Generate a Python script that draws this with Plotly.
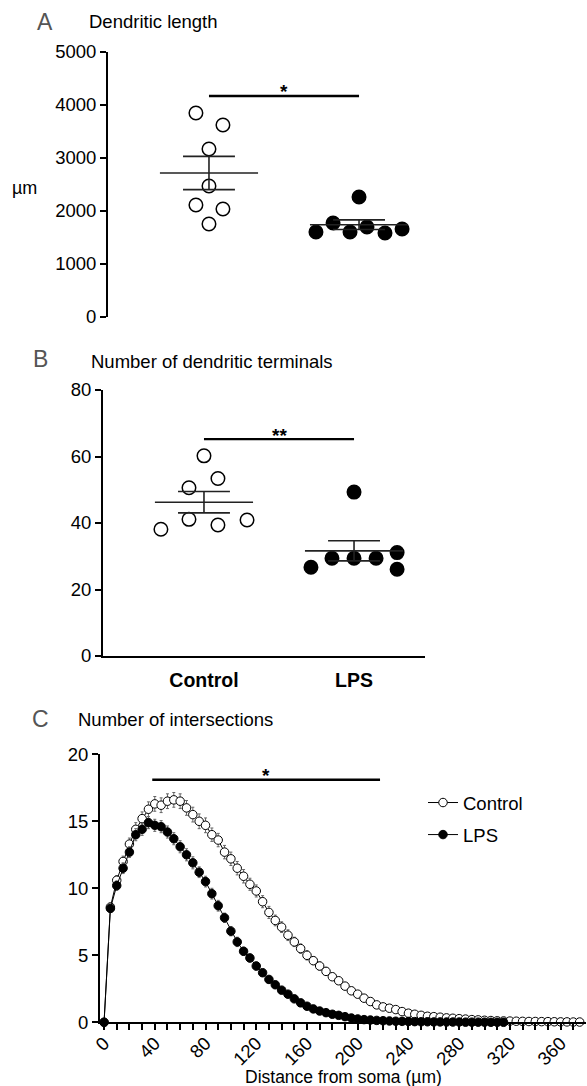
import plotly.graph_objects as go
import numpy as np

W, H = 587, 1086
FONT = "Liberation Sans"

# ---------------- data ----------------
groups = ["Control", "LPS"]
group_pos = [1, 2]

# Panel A: dendritic length (µm)
a_control = [3849, 3623, 3170, 2472, 2113, 2038, 1755]
a_control_jitter = [-0.087, 0.093, 0.0, 0.0, -0.087, 0.093, 0.0]
a_lps = [2264, 1774, 1604, 1604, 1698, 1585, 1660]
a_lps_jitter = [0.0, -0.173, -0.287, -0.06, 0.053, 0.173, 0.287]
a_ticks = [0, 1000, 2000, 3000, 4000, 5000]

# Panel B: number of dendritic terminals
b_control = [38.1, 41.1, 60.2, 50.6, 53.4, 39.4, 40.9]
b_control_jitter = [-0.287, -0.1, 0.0, -0.1, 0.093, 0.093, 0.287]
b_lps = [26.7, 29.4, 29.4, 29.4, 31.1, 26.1, 49.3]
b_lps_jitter = [-0.287, -0.147, 0.0, 0.147, 0.287, 0.287, 0.0]
b_ticks = [0, 20, 40, 60, 80]

# Panel C: Sholl analysis, number of intersections vs distance from soma
radius = [0, 5, 10, 15, 20, 25, 30, 35, 40, 45,
          50, 55, 60, 65, 70, 75, 80, 85, 90, 95,
          100, 105, 110, 115, 120, 125, 130, 135, 140, 145,
          150, 155, 160, 165, 170, 175, 180, 185, 190, 195,
          200, 205, 210, 215, 220, 225, 230, 235, 240, 245,
          250, 255, 260, 265, 270, 275, 280, 285, 290, 295,
          300, 305, 310, 315, 320, 325, 330, 335, 340, 345,
          350, 355, 360, 365, 370, 375]
c_control = [0, 8.6, 10.6, 12.0, 13.3, 14.4, 15.2, 15.9, 16.3, 16.2,
             16.5, 16.6, 16.5, 16.0, 15.5, 15.0, 14.7, 14.0, 13.6, 12.7,
             12.2, 11.5, 10.9, 10.3, 9.8, 9.0, 8.2, 7.6, 7.1, 6.5,
             6.0, 5.5, 5.0, 4.6, 4.2, 3.8, 3.4, 3.1, 2.7, 2.35,
             2.1, 1.8, 1.55, 1.3, 1.15, 1.05, 0.95, 0.8, 0.68, 0.6,
             0.52, 0.45, 0.42, 0.38, 0.33, 0.3, 0.27, 0.24, 0.2, 0.18,
             0.15, 0.13, 0.11, 0.1, 0.09, 0.08, 0.07, 0.06, 0.06, 0.05,
             0.05, 0.04, 0.03, 0.03, 0.02, 0.02]
c_control_sem = [0, 0.3, 0.35, 0.4, 0.45, 0.5, 0.5, 0.55, 0.55, 0.55,
                 0.55, 0.55, 0.55, 0.55, 0.55, 0.55, 0.55, 0.5, 0.5, 0.5,
                 0.5, 0.5, 0.5, 0.45, 0.45, 0.45, 0.45, 0.4, 0.4, 0.4,
                 0.35, 0.35, 0.35, 0.3, 0.3, 0.3, 0.25, 0.25, 0.25, 0.2,
                 0.2, 0.2, 0.2, 0.15, 0.15, 0.15, 0.15, 0.12, 0.12, 0.1,
                 0.1, 0.1, 0.1, 0.08, 0.08, 0.08, 0.07, 0.07, 0.06, 0.06,
                 0.05, 0.05, 0.05, 0.04, 0.04, 0.04, 0.03, 0.03, 0.03, 0.03,
                 0.02, 0.02, 0.02, 0.02, 0.02, 0.02]
c_lps = [0, 8.5, 10.2, 11.5, 12.7, 14.0, 14.4, 14.9, 14.7, 14.6,
         14.2, 13.7, 13.1, 12.5, 11.9, 11.2, 10.5, 9.6, 8.7, 7.8,
         6.8, 6.0, 5.3, 4.8, 4.2, 3.7, 3.2, 2.8, 2.4, 2.1,
         1.75, 1.45, 1.2, 1.0, 0.84, 0.72, 0.6, 0.52, 0.42, 0.32,
         0.25, 0.2, 0.17, 0.14, 0.12, 0.1, 0.08, 0.07, 0.06, 0.05,
         0.04, 0.04, 0.03, 0.03, 0.02, 0.02, 0.02, 0.01, 0.01, 0.01,
         0.01, 0.0, 0.0, 0.0]
c_lps_sem = [0, 0.3, 0.35, 0.4, 0.4, 0.45, 0.45, 0.45, 0.45, 0.45,
             0.45, 0.45, 0.45, 0.45, 0.45, 0.4, 0.4, 0.4, 0.4, 0.35,
             0.35, 0.35, 0.3, 0.3, 0.3, 0.25, 0.25, 0.25, 0.2, 0.2,
             0.2, 0.15, 0.15, 0.15, 0.12, 0.12, 0.1, 0.1, 0.1, 0.08,
             0.08, 0.06, 0.06, 0.05, 0.05, 0.04, 0.04, 0.03, 0.03, 0.03,
             0.02, 0.02, 0.02, 0.02, 0.02, 0.02, 0.02, 0.02, 0.02, 0.02,
             0.02, 0.01, 0.01, 0.01]
c_xticks = [0, 10, 20, 30, 40, 50, 60, 70, 80, 90, 100, 110, 120, 130, 140,
            150, 160, 170, 180, 190, 200, 210, 220, 230, 240, 250, 260, 270,
            280, 290, 300, 310, 320, 330, 340, 350, 360, 370]
c_xlabels_every = 40
c_yticks = [0, 5, 10, 15, 20]

# significance
a_sig = ("*", 4170)
b_sig = ("**", 65.2)
c_sig = ("*", 38, 217.6, 18.1)


def px(x):
    return x / W


def py(y):
    return 1 - y / H


fig = go.Figure()

MEAN_HW = 0.327
SEM_HW = 0.173


def dot_panel(vals_c, jit_c, vals_l, jit_l, xa, ya):
    for vals, jit, pos, filled in [(vals_c, jit_c, group_pos[0], False),
                                   (vals_l, jit_l, group_pos[1], True)]:
        v = np.array(vals, dtype=float)
        m = v.mean()
        s = v.std(ddof=1) / np.sqrt(len(v))
        fig.add_trace(go.Scatter(
            x=[pos + j for j in jit], y=vals, mode="markers", xaxis=xa, yaxis=ya,
            showlegend=False, cliponaxis=False,
            marker=dict(size=13.5, symbol="circle",
                        color="black" if filled else "white",
                        line=dict(color="black", width=1.5))))
        # mean line
        fig.add_trace(go.Scatter(
            x=[pos - MEAN_HW, pos + MEAN_HW], y=[m, m], mode="lines",
            xaxis=xa, yaxis=ya, showlegend=False, cliponaxis=False,
            line=dict(color="#222", width=1.6)))
        # SEM
        fig.add_trace(go.Scatter(
            x=[pos - SEM_HW, pos + SEM_HW, None, pos - SEM_HW, pos + SEM_HW, None, pos, pos],
            y=[m + s, m + s, None, m - s, m - s, None, m - s, m + s], mode="lines",
            xaxis=xa, yaxis=ya, showlegend=False, cliponaxis=False,
            line=dict(color="#222", width=1.6)))


dot_panel(a_control, a_control_jitter, a_lps, a_lps_jitter, "x", "y")
dot_panel(b_control, b_control_jitter, b_lps, b_lps_jitter, "x2", "y2")

# significance bars
fig.add_trace(go.Scatter(x=group_pos, y=[a_sig[1]] * 2, mode="lines", xaxis="x", yaxis="y",
                         showlegend=False, cliponaxis=False, line=dict(color="black", width=2.3)))
fig.add_trace(go.Scatter(x=group_pos, y=[b_sig[1]] * 2, mode="lines", xaxis="x2", yaxis="y2",
                         showlegend=False, cliponaxis=False, line=dict(color="black", width=2.3)))
fig.add_trace(go.Scatter(x=[c_sig[1], c_sig[2]], y=[c_sig[3]] * 2, mode="lines", xaxis="x3", yaxis="y3",
                         showlegend=False, cliponaxis=False, line=dict(color="black", width=2.3)))

# Panel C curves
fig.add_trace(go.Scatter(
    x=radius[:len(c_control)], y=c_control, mode="lines+markers", name="Control",
    xaxis="x3", yaxis="y3", cliponaxis=False, legendgroup="c",
    line=dict(color="black", width=1),
    marker=dict(size=8.5, color="white", line=dict(color="black", width=1)),
    error_y=dict(type="data", array=c_control_sem, color="#666", thickness=1, width=1.5)))
fig.add_trace(go.Scatter(
    x=radius[:len(c_lps)], y=c_lps, mode="lines+markers", name="LPS",
    xaxis="x3", yaxis="y3", cliponaxis=False, legendgroup="l",
    line=dict(color="black", width=1),
    marker=dict(size=8.5, color="black", line=dict(color="black", width=1)),
    error_y=dict(type="data", array=c_lps_sem, color="#666", thickness=1, width=1.5)))

tickfont = dict(family=FONT, size=18.5, color="black")
yax_common = dict(showline=True, linecolor="black", linewidth=2, ticks="outside",
                  ticklen=6, tickwidth=2, tickcolor="black", showgrid=False,
                  zeroline=False, tickfont=tickfont, fixedrange=True)

c_ticktext = [str(v) if v % c_xlabels_every == 0 else "" for v in c_xticks]

fig.update_layout(
    width=W, height=H, margin=dict(l=0, r=0, t=0, b=0, autoexpand=False),
    paper_bgcolor="white", plot_bgcolor="white",
    font=dict(family=FONT, color="black"),
    showlegend=True,
    legend=dict(x=px(423), y=py(784), xanchor="left", yanchor="top",
                font=dict(family=FONT, size=18.5, color="black"),
                bgcolor="rgba(0,0,0,0)", tracegroupgap=5, traceorder="grouped",
                itemwidth=30),
    xaxis=dict(domain=[px(108), px(430)], range=[0.327, 2.473], showline=False,
               showticklabels=False, ticks="", showgrid=False, zeroline=False),
    yaxis=dict(domain=[py(317), py(52)], range=[0, 5000], tickvals=a_ticks, **yax_common),
    xaxis2=dict(domain=[px(103), px(425)], range=[0.327, 2.473], showline=True,
                linecolor="black", linewidth=2, ticks="", tickvals=group_pos,
                ticktext=["<b>%s</b>" % g for g in groups],
                tickfont=dict(family=FONT, size=19.5, color="black"),
                ticklabelstandoff=6,
                showgrid=False, zeroline=False, anchor="y2"),
    yaxis2=dict(domain=[py(656), py(390)], range=[0, 80], tickvals=b_ticks, anchor="x2",
                **yax_common),
    xaxis3=dict(domain=[px(100), px(586)], range=[-3.2, 380], showline=True,
                linecolor="black", linewidth=2, ticks="outside", ticklen=6, tickwidth=2,
                tickcolor="black", tickvals=c_xticks, ticktext=c_ticktext, tickangle=-45,
                tickfont=tickfont, ticklabelstandoff=-5,
                showgrid=False, zeroline=False, anchor="y3"),
    yaxis3=dict(domain=[py(1022.3), py(754.3)], range=[0, 20], tickvals=c_yticks,
                anchor="x3", **yax_common),
)

annots = [
    dict(text="A", x=px(44.5), y=py(22), xanchor="center", size=23, color="#555"),
    dict(text="Dendritic length", x=px(87), y=py(22), xanchor="left", size=18.5, color="black"),
    dict(text="µm", x=px(24.5), y=py(188), xanchor="center", size=18, color="black"),
    dict(text="B", x=px(40), y=py(359), xanchor="center", size=23, color="#555"),
    dict(text="Number of dendritic terminals", x=px(89), y=py(361), xanchor="left", size=18.5, color="black"),
    dict(text="C", x=px(40.5), y=py(719), xanchor="center", size=23, color="#555"),
    dict(text="Number of intersections", x=px(76), y=py(719), xanchor="left", size=18.5, color="black"),
    dict(text="Distance from soma (µm)", x=px(343), y=py(1077), xanchor="center", size=17.5, color="black"),
]
for a in annots:
    fig.add_annotation(text=a["text"], x=a["x"], y=a["y"], xref="paper", yref="paper",
                       xanchor=a["xanchor"], yanchor="middle", showarrow=False,
                       font=dict(family=FONT, size=a["size"], color=a["color"]))

# significance stars
for txt, xv, yv, xr, yr in [(a_sig[0], 1.5, a_sig[1], "x", "y"),
                            (b_sig[0], 1.5, b_sig[1], "x2", "y2"),
                            (c_sig[0], (c_sig[1] + c_sig[2]) / 2, c_sig[3], "x3", "y3")]:
    fig.add_annotation(text="<b>%s</b>" % txt, x=xv, y=yv, xref=xr, yref=yr, showarrow=False,
                       yanchor="middle", yshift=4, font=dict(family=FONT, size=19, color="black"))

fig.write_html(
    "out.html",
    post_script="document.body.style.margin='0';document.body.style.padding='0';"
                "document.documentElement.style.margin='0';document.body.style.overflow='hidden';",
)
